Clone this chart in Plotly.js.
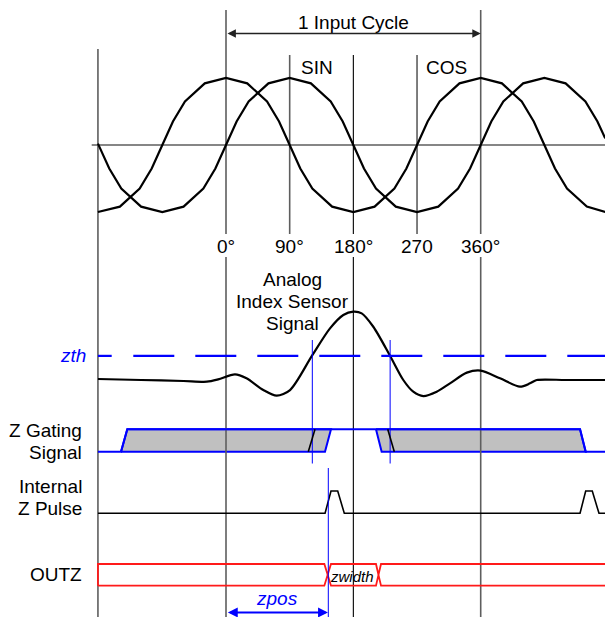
<!DOCTYPE html>
<html><head><meta charset="utf-8">
<script src="https://cdn.plot.ly/plotly-3.0.1.min.js"></script>
<style>html,body{margin:0;padding:0;background:#fff}#chart{width:605px;height:617px}</style>
</head><body><div id="chart"></div>
<script>
// ---------- data (x in electrical degrees) ----------
const sinDeg = [-181,-165,-148,-120,-90,-60,-32,-15,0,15,32,60,90,120,148,165,180,195,212,240,270,300,328,345,360,375,392,420,450,480,508,525,536];
const sinVal = [0.02,-0.35,-0.65,-0.92,-1,-0.92,-0.65,-0.35,0,0.35,0.65,0.92,1,0.92,0.65,0.35,0,-0.35,-0.65,-0.92,-1,-0.92,-0.65,-0.35,0,0.35,0.65,0.92,1,0.92,0.65,0.35,0.1];
const cosDeg = [-181,-150,-122,-105,-90,-75,-58,-30,0,30,58,75,90,105,122,150,180,210,238,255,270,285,302,330,360,390,418,435,450,465,482,510,536];
const cosVal = [-1,-0.92,-0.65,-0.35,0,0.35,0.65,0.92,1,0.92,0.65,0.35,0,-0.35,-0.65,-0.92,-1,-0.92,-0.65,-0.35,0,0.35,0.65,0.92,1,0.92,0.65,0.35,0,-0.35,-0.65,-0.92,-1];

const analogDeg = [-181,-120,-60,-27,-11,12.7,29,52.7,71.7,90.5,121.6,147,165.8,180,191.8,208.2,231.8,250.6,264.7,278.9,297.8,316.6,340.4,360,387.3,415.5,429.7,439.2,480,536];
const analogVal = [0.015,0.0,-0.015,-0.025,0.01,0.085,0.025,-0.15,-0.234,-0.15,0.363,0.77,0.97,1.02,0.995,0.795,0.363,0,-0.175,-0.24,-0.175,-0.05,0.11,0.14,0.025,-0.10,-0.05,0,0,0];
const zthLevel = 0.36;
const zthCrossDeg = [122, 232];

const gateLineDeg = [-181,-148.4,-139.5,500.4,508.4,536];
const gateLineLvl = [0,0,1,1,0,0];
const gateWin1Deg = [-148.4,-139.5,148.4,139.9,-148.4];
const gateWin1Lvl = [0,1,1,0,0];
const gateWin2Deg = [212,220,508.4,500.4,212];
const gateWin2Lvl = [1,0,0,1,1];
const gateEdge1Deg = [116.3,125.8];
const gateEdge1Lvl = [0,1];
const gateEdge2Deg = [228.6,237.9];
const gateEdge2Lvl = [1,0];

const pulseDeg = [-181,140,148.4,157.9,167.2,500.4,508.4,517.7,527.2,536];
const pulseLvl = [0,0,1,1,0,0,1,1,0,0];

const outzTopDeg = [-181,-181,139,143.7,148.4,212,215.5,219.1,536];
const outzTopLvl = [0,1,1,0.5,1,1,0.5,1,1];
const outzBotDeg = [-181,139,143.7,148.4,212,215.5,219.1,536];
const outzBotLvl = [0,0,0.5,0,0,0.5,0,0];

const zposDeg = 144.6;
const degTicks = [0,90,180,270,360];
const degTickText = ['0°','90°','180°','270','360°'];

// ---------- layout helpers ----------
const PX0 = 226, PXD = 0.7075;          // pixel of 0 deg, pixels per degree
const W = 605, H = 617;
const d = px => (px - PX0) / PXD;        // pixel -> degree (for text placement)
const SINE0 = 145, AMP = 67, AN0 = 380;
const GATE_LO = 451.7, GATE_HI = 429.3, PUL_LO = 513.3, PUL_HI = 491, OZ_LO = 585.7, OZ_HI = 564;
const lane = (vals, lo, hi) => vals.map(v => lo + (hi - lo) * v);

const GRAY = '#5e5e5e', BLUE = '#0000ff', RED = '#ff1a1a';
const FONT = 'Liberation Sans, Arial, sans-serif';

const traces = [];
function line(x, y, color, width, extra) {
  traces.push(Object.assign({type:'scatter', mode:'lines', x:x, y:y, hoverinfo:'skip',
    line:{color:color, width:width}}, extra || {}));
}

// fills first
traces.push({type:'scatter', mode:'lines', x:gateWin1Deg, y:lane(gateWin1Lvl,GATE_LO,GATE_HI), fill:'toself',
  fillcolor:'#c0c0c0', line:{color:BLUE, width:2}, hoverinfo:'skip'});
traces.push({type:'scatter', mode:'lines', x:gateWin2Deg, y:lane(gateWin2Lvl,GATE_LO,GATE_HI), fill:'toself',
  fillcolor:'#c0c0c0', line:{color:BLUE, width:2}, hoverinfo:'skip'});

// reference verticals and zero axis
line([d(91.7), d(W)], [SINE0, SINE0], GRAY, 1.5);
line([-181, -181], [49, H], GRAY, 1.6);
[0, 360].forEach(v => { line([v, v], [10, 234], GRAY, 1.6); line([v, v], [257, H], GRAY, 1.6); });
[90, 270].forEach(v => line([v, v], [55, 234], GRAY, 1.6));
line([180, 180], [55, 234], '#000', 1.1); line([180, 180], [257, H], '#000', 1.1);

// signals
line(sinDeg, sinVal.map(v => SINE0 - AMP * v), '#000', 2.2);
line(cosDeg, cosVal.map(v => SINE0 - AMP * v), '#000', 2.2);
line(analogDeg, analogVal.map(v => AN0 - AMP * v), '#000', 2.2, {line:{color:'#000', width:2.2, shape:'spline', smoothing:0.8}});
const zthY = AN0 - AMP * zthLevel;
line([-181, d(111.7)], [zthY, zthY], BLUE, 2.2);
line([d(133.3), d(W)+1], [zthY, zthY], BLUE, 2.2, {line:{color:BLUE, width:2.2, dash:'41px,21px'}});
zthCrossDeg.forEach(v => line([v, v], [340, 463.5], BLUE, 1));

line(gateLineDeg, lane(gateLineLvl, GATE_LO, GATE_HI), BLUE, 2);
line(gateEdge1Deg, lane(gateEdge1Lvl, GATE_LO, GATE_HI), '#000', 1.6);
line(gateEdge2Deg, lane(gateEdge2Lvl, GATE_LO, GATE_HI), '#000', 1.6);

line(pulseDeg, lane(pulseLvl, PUL_LO, PUL_HI), '#000', 1.6);
line(outzTopDeg, lane(outzTopLvl, OZ_LO, OZ_HI), RED, 1.8);
line(outzBotDeg, lane(outzBotLvl, OZ_LO, OZ_HI), RED, 1.8);
line([zposDeg, zposDeg], [468, H], BLUE, 1);

// ---------- annotations ----------
const ann = [];
function txt(text, xDeg, y, opts) {
  ann.push(Object.assign({text:text, x:xDeg, y:y, xref:'x', yref:'y', showarrow:false,
    xanchor:'center', yanchor:'middle', font:{family:FONT, size:19, color:'#000'}}, opts || {}));
}
txt('1 Input Cycle', 180, 22);
txt('SIN', d(299), 67.5, {xanchor:'left'});
txt('COS', d(423.5), 67.5, {xanchor:'left'});
degTicks.forEach((t, i) => txt(degTickText[i], t, 246));
txt('Analog', d(292), 279);
txt('Index Sensor', d(292), 301);
txt('Signal', d(292), 323);
txt('<i>zth</i>', d(88), 355, {xanchor:'right', font:{family:FONT, size:19, color:BLUE}});
txt('Z Gating', d(84), 430, {xanchor:'right'});
txt('Signal', d(84), 452, {xanchor:'right'});
txt('Internal', d(84), 486, {xanchor:'right'});
txt('Z Pulse', d(84), 508, {xanchor:'right'});
txt('OUTZ', d(84), 574.5, {xanchor:'right'});
txt('<i>zwidth</i>', d(351.5), 576, {font:{family:FONT, size:15, color:'#000'}});
txt('<i>zpos</i>', d(277), 598, {font:{family:FONT, size:19, color:BLUE}});

// double-headed arrows
ann.push({x:360, y:33.5, ax:0, ay:33.5, xref:'x', yref:'y', axref:'x', ayref:'y', text:'', showarrow:true,
  arrowside:'end+start', arrowhead:2, startarrowhead:2, arrowsize:1.2, startarrowsize:1.2, arrowwidth:1.4, arrowcolor:'#222',
  standoff:0, startstandoff:0});
ann.push({x:zposDeg - 0.5, y:612.5, ax:0.5, ay:612.5, xref:'x', yref:'y', axref:'x', ayref:'y', text:'', showarrow:true,
  arrowside:'end+start', arrowhead:2, startarrowhead:2, arrowsize:1.1, startarrowsize:1.1, arrowwidth:1.8, arrowcolor:BLUE,
  standoff:0, startstandoff:0});

const layout = {
  width:W, height:H, margin:{l:0, r:0, t:0, b:0}, showlegend:false,
  paper_bgcolor:'#fff', plot_bgcolor:'#fff',
  xaxis:{range:[d(0), d(W)], visible:false, fixedrange:true},
  yaxis:{range:[H, 0], visible:false, fixedrange:true},
  annotations:ann
};
Plotly.newPlot('chart', traces, layout, {staticPlot:true, displayModeBar:false});
</script></body></html>
